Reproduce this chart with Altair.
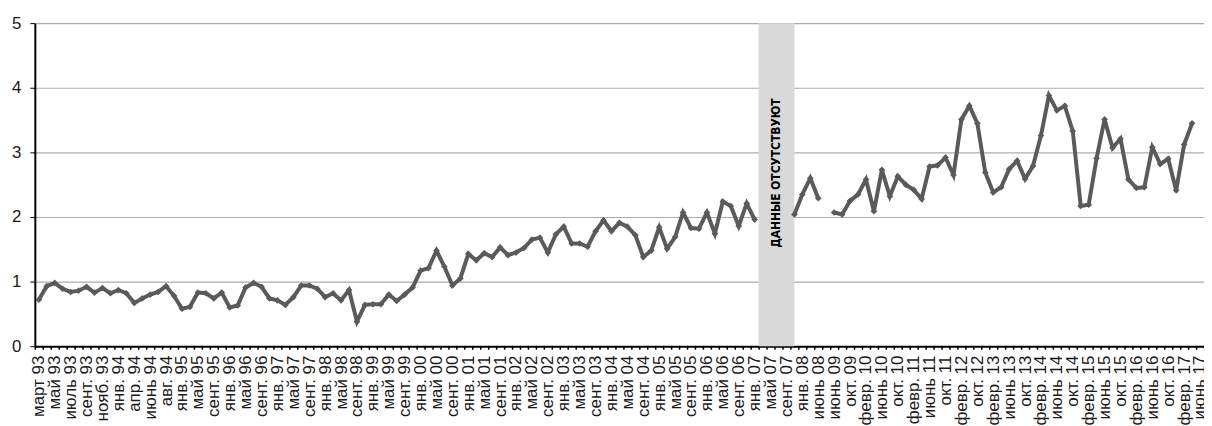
import json
import altair as alt
import pandas as pd

# ---- data ----
tick_labels = [
    "март 93", "май 93", "июль 93", "сент. 93", "нояб. 93", "янв. 94", "апр. 94", "июнь 94",
    "авг. 94", "янв. 95", "май 95", "сент. 95", "янв. 96", "май 96", "сент. 96", "янв. 97",
    "май 97", "сент. 97", "янв. 98", "май 98", "сент. 98", "янв. 99", "май 99", "сент. 99",
    "янв. 00", "май 00", "сент. 00", "янв. 01", "май 01", "сент. 01", "янв. 02", "май 02",
    "сент. 02", "янв. 03", "май 03", "сент. 03", "янв. 04", "май 04", "сент. 04", "янв. 05",
    "май 05", "сент. 05", "янв. 06", "май 06", "сент. 06", "янв. 07", "май 07", "сент. 07",
    "янв. 08", "июнь 08", "июнь 09", "окт. 09", "февр. 10", "июнь 10", "окт. 10", "февр. 11",
    "июнь 11", "окт. 11", "февр. 12", "окт. 12", "февр. 13", "июнь 13", "окт. 13", "февр. 14",
    "июнь 14", "окт. 14", "февр. 15", "июнь 15", "окт. 15", "февр. 16", "июнь 16", "окт. 16",
    "февр. 17", "июнь 17",
]

values = [
    0.72, 0.93, 0.98, 0.89, 0.84, 0.86, 0.92, 0.83, 0.90, 0.82,
    0.87, 0.82, 0.67, 0.74, 0.80, 0.84, 0.93, 0.78, 0.58, 0.61,
    0.83, 0.82, 0.74, 0.83, 0.60, 0.63, 0.91, 0.98, 0.92, 0.74,
    0.71, 0.64, 0.76, 0.94, 0.94, 0.89, 0.76, 0.82, 0.71, 0.87,
    0.38, 0.64, 0.65, 0.65, 0.80, 0.70, 0.80, 0.91, 1.17, 1.21,
    1.48, 1.23, 0.94, 1.05, 1.43, 1.33, 1.44, 1.38, 1.53, 1.41,
    1.45, 1.52, 1.65, 1.68, 1.45, 1.73, 1.85, 1.59, 1.59, 1.54,
    1.78, 1.95, 1.78, 1.91, 1.85, 1.72, 1.38, 1.48, 1.84, 1.51,
    1.69, 2.07, 1.83, 1.82, 2.07, 1.74, 2.24, 2.17, 1.86, 2.21,
    1.96, None, None, None, None, 2.04, 2.35, 2.60, 2.29, None,
    2.07, 2.04, 2.25, 2.35, 2.58, 2.09, 2.73, 2.32, 2.63, 2.50,
    2.42, 2.28, 2.78, 2.80, 2.92, 2.65, 3.51, 3.72, 3.45, 2.69,
    2.38, 2.46, 2.74, 2.87, 2.59, 2.79, 3.26, 3.88, 3.65, 3.72,
    3.33, 2.17, 2.19, 2.91, 3.51, 3.07, 3.21, 2.58, 2.45, 2.46,
    3.08, 2.82, 2.90, 2.41, 3.12, 3.45,
]

gap_start = 90.5     # category position where the "no data" band starts
gap_end = 95.0       # category position where it ends
gap_label = "ДАННЫЕ ОТСУТСТВУЮТ"
gap_label_y = 2.68
y_ticks = [0, 1, 2, 3, 4, 5]

# ---- tables built from the arrays ----
n_cats = 2 * len(tick_labels) - 1
rows = []
seg = 0
prev_valid = False
for i, v in enumerate(values):
    if v is None:
        if prev_valid:
            seg += 1
        prev_valid = False
        continue
    rows.append({"i": i, "v": v, "seg": seg})
    prev_valid = True
line_df = pd.DataFrame(rows)

band_df = pd.DataFrame([{"x0": gap_start, "x1": gap_end, "y0": y_ticks[0], "y1": y_ticks[-1],
                         "xm": (gap_start + gap_end) / 2, "ym": gap_label_y, "t": gap_label}])

lab = [""] * (n_cats + 1)
for k, t in enumerate(tick_labels):
    lab[2 * k] = t
label_expr = json.dumps(lab, ensure_ascii=False) + "[round(datum.value + 0.5)]"
tick_vals = [k - 0.5 for k in range(n_cats + 1)]

FONT = "Liberation Sans, Arial, sans-serif"
BAND_FONT = "DejaVu Sans Condensed, Liberation Sans, sans-serif"
LINE = "#5a5a5a"

xscale = alt.Scale(domain=[-0.5, n_cats - 0.5], nice=False, zero=False)
yscale = alt.Scale(domain=[0, 5], nice=False)

x_axis = alt.Axis(values=tick_vals, tickCount=len(tick_vals) + 2, labelExpr=label_expr,
                  labelAngle=270, labelOffset=4,
                  labelPadding=6, tickSize=3, tickColor="black", tickWidth=1.5,
                  domainColor="black", domainWidth=2, grid=False, title=None,
                  labelFont=FONT, labelFontSize=17, labelColor="#1a1a1a",
                  labelOverlap=False, labelFlush=False, labelLimit=200)
y_axis = alt.Axis(values=y_ticks, tickCount=len(y_ticks) + 2,
                  labelExpr="format(datum.value, 'd')",
                  tickSize=5, tickColor="black", tickWidth=1,
                  domainColor="black", domainWidth=2, grid=True, gridColor="#ababab",
                  gridWidth=1.2, title=None, labelFont=FONT, labelFontSize=17,
                  labelColor="#1a1a1a", labelPadding=9, labelFlush=False,
                  labelOverlap=False)

band = alt.Chart(band_df).mark_rect(color="#d9d9d9").encode(
    x=alt.X("x0:Q", scale=xscale, axis=x_axis),
    x2="x1:Q",
    y=alt.Y("y0:Q", scale=yscale, axis=y_axis),
    y2="y1:Q",
)

band_text = alt.Chart(band_df).mark_text(
    angle=270, align="center", baseline="middle", font=BAND_FONT, fontSize=12,
    fontWeight="bold", color="black"
).encode(x="xm:Q", y="ym:Q", text="t:N")

line = alt.Chart(line_df).mark_line(color=LINE, strokeWidth=4).encode(
    x="i:Q", y="v:Q", detail="seg:N"
)
points = alt.Chart(line_df).mark_point(shape="diamond", filled=True, size=45,
                                       color=LINE, opacity=1).encode(x="i:Q", y="v:Q")

chart = alt.layer(band, band_text, line, points).properties(
    width=1176, height=325,
    autosize=alt.AutoSizeParams(type="none"),
    padding={"left": 27, "top": 14, "right": 0, "bottom": 79},
).configure_view(stroke=None)

chart.save("out.html", embed_options={"renderer": "svg", "actions": False})
